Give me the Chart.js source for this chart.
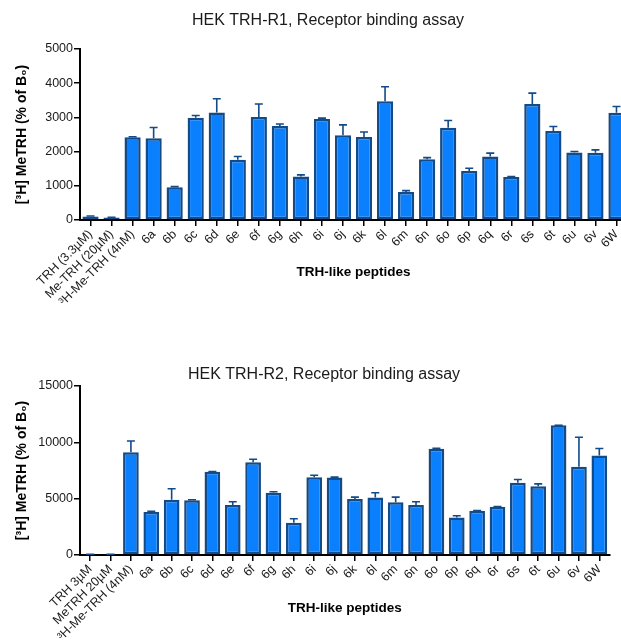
<!DOCTYPE html>
<html>
<head>
<script src="https://cdn.jsdelivr.net/npm/chart.js"></script>
<style>
  body { margin: 0; overflow: hidden; background: #fff; width: 621px; height: 642px; position: relative; }
  #box1 { position: absolute; left: 0; top: 0; width: 632px; height: 310px; }
  #box2 { position: absolute; left: 0; top: 330px; width: 621px; height: 312px; }
</style>
</head>

<body>
<div id="box1"><canvas id="chart1"></canvas></div>
<div id="box2"><canvas id="chart2"></canvas></div>

<script>
  // data
  const peptides = ['6a','6b','6c','6d','6e','6f','6g','6h','6i','6j','6k','6l','6m','6n','6o','6p','6q','6r','6s','6t','6u','6v','6W'];
  const labelsR1 = ['TRH (3.3µM)', 'Me-TRH (20µM)', '³H-Me-TRH (4nM)'].concat(peptides);
  const labelsR2 = ['TRH 3µM', 'MeTRH 20µM', '³H-Me-TRH (4nM)'].concat(peptides);

  const valuesR1 = [100, 70, 2420, 2390, 960, 2990, 3145, 1760, 3010, 2745, 1270, 2950, 2480, 2430, 3475, 820, 1775, 2695, 1435, 1855, 1260, 3390, 2605, 1975, 1965, 3135];
  const errorsR1 = [15, 10, 15, 315, 15, 65, 400, 95, 380, 60, 50, 30, 300, 145, 420, 40, 50, 215, 80, 100, 10, 320, 130, 30, 85, 185];

  const valuesR2 = [60, 60, 9120, 3810, 4900, 4870, 7380, 4430, 8240, 5520, 2865, 6910, 6880, 4960, 5110, 4690, 4430, 9420, 3335, 3925, 4280, 6405, 6110, 11515, 7825, 8830];
  const errorsR2 = [10, 10, 1000, 60, 975, 30, 30, 295, 265, 90, 355, 175, 30, 175, 410, 445, 295, 60, 150, 30, 30, 295, 205, 0, 2630, 620];

  const yTicksR1 = [0, 1000, 2000, 3000, 4000, 5000];
  const yTicksR2 = [0, 5000, 10000, 15000];

  const FONT = "'Liberation Sans', Arial, Helvetica, sans-serif";
  const FILL = '#0a80ff';
  const EDGE = '#134a88';

  // error bars (upper half only) drawn through the y scale
  const errorBars = {
    id: 'errorBars',
    afterDatasetsDraw(chart) {
      const ctx = chart.ctx;
      const y = chart.scales.y;
      const ds = chart.data.datasets[0];
      const meta = chart.getDatasetMeta(0);
      ctx.save();
      ctx.strokeStyle = EDGE;
      ctx.lineWidth = 1.6;
      meta.data.forEach(function(bar, i) {
        const top = y.getPixelForValue(ds.data[i] + ds.errors[i]);
        ctx.beginPath();
        ctx.moveTo(bar.x, bar.y);
        ctx.lineTo(bar.x, top);
        ctx.moveTo(bar.x - 4, top);
        ctx.lineTo(bar.x + 4, top);
        ctx.stroke();
      });
      ctx.restore();
    }
  };

  // plot title placed where the figure has it
  const plotTitle = {
    id: 'plotTitle',
    afterDraw(chart) {
      const t = chart.config.options.plotTitle;
      const ctx = chart.ctx;
      ctx.save();
      ctx.font = '16px ' + FONT;
      ctx.fillStyle = '#1a1a1a';
      ctx.textAlign = 'center';
      ctx.textBaseline = 'middle';
      ctx.fillText(t.text, t.x, t.y);
      ctx.restore();
    }
  };

  function makeChart(id, labels, values, errors, yTicks, t) {
    const yMax = yTicks[yTicks.length - 1];
    return new Chart(document.getElementById(id), {
      type: 'bar',
      data: {
        labels: labels,
        datasets: [{
          data: values,
          errors: errors,
          backgroundColor: FILL,
          borderColor: EDGE,
          borderWidth: 2.5,
          borderSkipped: false,
          barPercentage: 0.77,
          categoryPercentage: 1
        }]
      },
      plugins: [errorBars, plotTitle],
      options: {
        responsive: true,
        maintainAspectRatio: false,
        animation: false,
        devicePixelRatio: 1,
        plotTitle: t.title,
        layout: { padding: { top: t.padTop, right: t.padRight, left: 0, bottom: 0 } },
        plugins: { legend: { display: false }, tooltip: { enabled: false } },
        scales: {
          x: {
            offset: true,
            grid: { offset: false, drawOnChartArea: false, drawTicks: true, tickLength: 6, color: '#000', lineWidth: 1.5 },
            border: { display: true, color: '#000', width: 2 },
            ticks: { autoSkip: false, maxRotation: 45, minRotation: 45, padding: 1, color: '#1a1a1a', font: { family: FONT, size: 12.5 } },
            title: { display: true, text: 'TRH-like peptides', color: '#000', font: { family: FONT, size: 13.5, weight: 'bold' }, padding: { top: t.xTitlePad, bottom: t.xTitlePad } },
            afterFit: function(s) { s.height = t.xHeight; }
          },
          y: {
            min: 0,
            max: yMax,
            grid: { drawOnChartArea: false, drawTicks: true, tickLength: 6, color: '#000', lineWidth: 1.5 },
            border: { display: true, color: '#000', width: 2 },
            afterBuildTicks: function(s) { s.ticks = yTicks.map(function(v) { return { value: v }; }); },
            ticks: { padding: 1, color: '#1a1a1a', font: { family: FONT, size: 12.5 }, callback: function(v) { return String(v); } },
            title: { display: true, text: '[³H] MeTRH (% of B₀)', color: '#000', font: { family: FONT, size: 14, weight: 'bold' }, padding: { top: 14, bottom: 0 } },
            afterFit: function(s) { s.width = 80; }
          }
        }
      }
    });
  }

  makeChart('chart1', labelsR1, valuesR1, errorsR1, yTicksR1, {
    title: { text: 'HEK TRH-R1, Receptor binding assay', x: 328, y: 21 },
    padTop: 49, padRight: 5, xHeight: 90, xTitlePad: 29.5
  });

  makeChart('chart2', labelsR2, valuesR2, errorsR2, yTicksR2, {
    title: { text: 'HEK TRH-R2, Receptor binding assay', x: 324, y: 45 },
    padTop: 56, padRight: 11.5, xHeight: 87, xTitlePad: 26
  });
</script>
</body>
</html>
